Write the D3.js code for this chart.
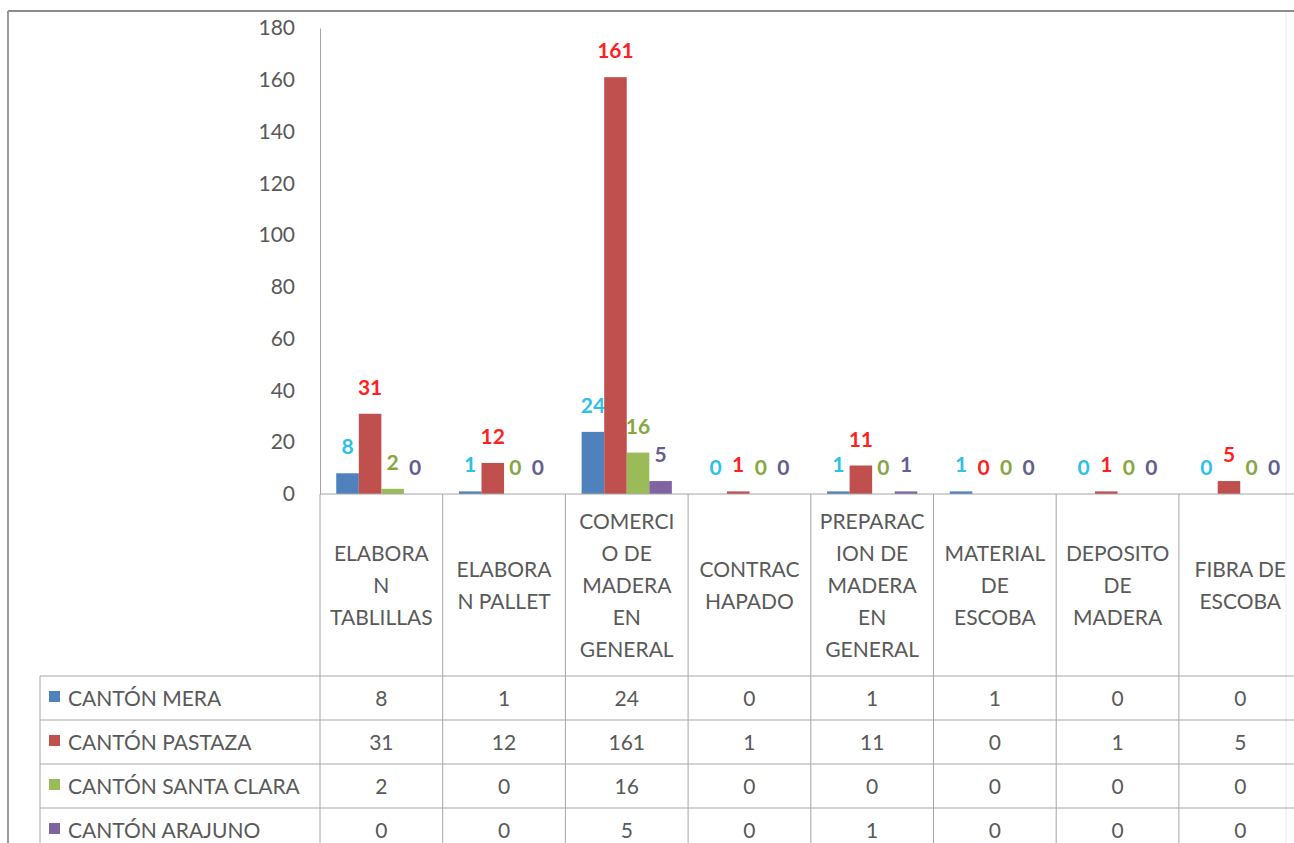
<!DOCTYPE html>
<html><head><meta charset="utf-8">
<script src="https://cdn.jsdelivr.net/npm/d3@7/dist/d3.min.js"></script>
<style>
html,body{margin:0;padding:0;background:#fff;}
svg{display:block;font-family:Lato,"Open Sans",sans-serif;}
</style></head>
<body><svg id="chart" width="1294" height="843"></svg>
<script>
const categories = [
  ["ELABORA","N","TABLILLAS"],
  ["ELABORA","N PALLET"],
  ["COMERCI","O DE","MADERA","EN","GENERAL"],
  ["CONTRAC","HAPADO"],
  ["PREPARAC","ION DE","MADERA","EN","GENERAL"],
  ["MATERIAL","DE","ESCOBA"],
  ["DEPOSITO","DE","MADERA"],
  ["FIBRA DE","ESCOBA"]
];
const seriesNames = ["CANTÓN MERA","CANTÓN PASTAZA","CANTÓN SANTA CLARA","CANTÓN ARAJUNO"];
const mera       = [8, 1, 24, 0, 1, 1, 0, 0];
const pastaza    = [31, 12, 161, 1, 11, 0, 1, 5];
const santaClara = [2, 0, 16, 0, 0, 0, 0, 0];
const arajuno    = [0, 0, 5, 0, 1, 0, 0, 0];
const yTicks = [0,20,40,60,80,100,120,140,160,180];

const seriesValues = [mera, pastaza, santaClara, arajuno];
const barColors = ["#4F81BD","#C0504D","#9BBB59","#8064A2"];
const labelColors = ["#2EC0EA","#FF1F1F","#86A63F","#655D8E"];

const svg = d3.select("#chart");
const W = 1294, H = 843;
const catKeys = categories.map((c,i)=>i);
const FS = 21;
const TXT = "#595959";

const colW = 122.7;
const x0 = 320;
const x = d3.scaleBand().domain(catKeys).range([x0, x0 + colW*categories.length]).padding(0);
const xs = d3.scaleBand().domain(d3.range(seriesNames.length)).range([0, x.bandwidth()]).paddingInner(0).paddingOuter(0.72);
const y = d3.scaleLinear().domain([0,180]).range([494, 28]);

// outer frame
svg.append("line").attr("x1",8).attr("x2",W).attr("y1",11).attr("y2",11).attr("stroke","#8c8c8c").attr("stroke-width",2);
svg.append("line").attr("x1",8).attr("x2",8).attr("y1",11).attr("y2",H).attr("stroke","#9a9a9a").attr("stroke-width",2);
svg.append("line").attr("x1",1286).attr("x2",1286).attr("y1",12).attr("y2",H).attr("stroke","#ececec").attr("stroke-width",1);

// y axis
const yAxis = d3.axisLeft(y).tickValues(yTicks).tickSize(0).tickPadding(25);
const gy = svg.append("g").attr("transform",`translate(${x0},0)`).call(yAxis);
gy.select(".domain").attr("stroke","#a6a6a6");
gy.selectAll("text").attr("fill",TXT).attr("font-size",FS).attr("font-family","Lato,'Open Sans',sans-serif");

// bars
const gBars = svg.append("g");
seriesValues.forEach((vals, si) => {
  gBars.selectAll(null).data(vals).enter().append("rect")
    .attr("x",(d,i)=>x(i)+xs(si))
    .attr("width",xs.bandwidth())
    .attr("y",d=>y(d))
    .attr("height",d=>y(0)-y(d))
    .attr("fill",barColors[si]);
  gBars.selectAll(null).data(vals).enter().append("text")
    .attr("x",(d,i)=>x(i)+xs(si)+xs.bandwidth()/2)
    .attr("y",d=>y(d)-19)
    .attr("text-anchor","middle")
    .attr("font-size",FS).attr("font-weight","bold")
    .attr("fill",labelColors[si])
    .text(d=>d);
});

// table
const tableTop = 494, headerBottom = 676, rowH = 44;
const legendLeft = 40;
const xEnd = x0 + colW*categories.length;
const grid = svg.append("g").attr("stroke","#a6a6a6").attr("stroke-width",1);
grid.append("line").attr("x1",x0).attr("x2",xEnd).attr("y1",tableTop).attr("y2",tableTop);
d3.range(categories.length+1).forEach(i=>{
  const xx = x0 + colW*i;
  grid.append("line").attr("x1",xx).attr("x2",xx).attr("y1",tableTop).attr("y2",H);
});
grid.append("line").attr("x1",legendLeft).attr("x2",legendLeft).attr("y1",headerBottom).attr("y2",H);
d3.range(seriesNames.length+1).forEach(r=>{
  const yy = headerBottom + rowH*r;
  grid.append("line").attr("x1",legendLeft).attr("x2",xEnd).attr("y1",yy).attr("y2",yy);
});

// header labels
const headerMid = (tableTop+headerBottom)/2;
const lh = 32;
categories.forEach((lines,i)=>{
  const t = svg.append("text").attr("text-anchor","middle").attr("font-size",FS).attr("fill",TXT);
  const startY = headerMid - (lines.length-1)*lh/2 + 8;
  lines.forEach((ln,k)=>{
    t.append("tspan").attr("x",x(i)+x.bandwidth()/2).attr("y",startY+k*lh).text(ln);
  });
});

// rows
seriesNames.forEach((name,si)=>{
  const cy = headerBottom + rowH*si + rowH/2;
  svg.append("rect").attr("x",49).attr("y",cy-7).attr("width",11).attr("height",11).attr("fill",barColors[si]);
  svg.append("text").attr("x",68).attr("y",cy+8).attr("font-size",FS).attr("fill",TXT).text(name);
  seriesValues[si].forEach((v,i)=>{
    svg.append("text").attr("x",x(i)+x.bandwidth()/2).attr("y",cy+8).attr("text-anchor","middle")
      .attr("font-size",FS).attr("fill",TXT).text(v);
  });
});
</script></body></html>
